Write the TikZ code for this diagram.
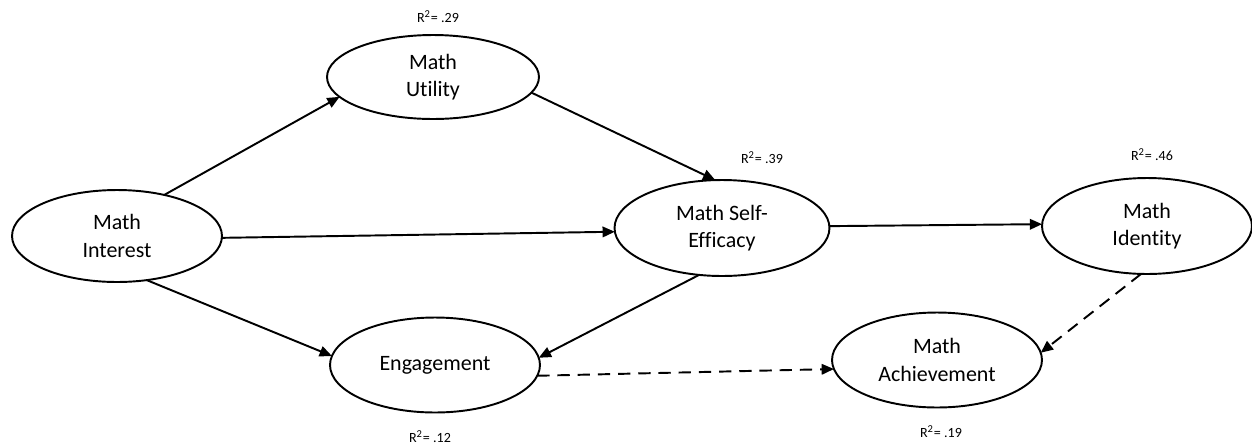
\documentclass[tikz,border=0pt]{standalone}
\usepackage{fontspec}
\setmainfont{Carlito}[Ligatures=NoCommon]
\usepackage{tikz}
\usetikzlibrary{arrows.meta,positioning,shapes.geometric}

\begin{document}
\begin{tikzpicture}[x=0.02cm, y=-0.02cm,
    latent/.style={ellipse, draw, line width=1.1pt, inner sep=0pt, outer sep=0pt,
        align=center, font=\fontsize{12.5}{15.5}\selectfont},
    rsq/.style={font=\fontsize{8}{10}\selectfont},
    path/.style={line width=1.1pt, -{Triangle[length=7pt,width=6pt]}},
    weak/.style={path, dash pattern=on 7pt off 4.5pt}]
    \useasboundingbox (0,0) rectangle (1252,444);

    \node[latent, minimum width=4.2cm, minimum height=1.84cm] (interest) at (117,236) {Math\\Interest};
    \node[latent, minimum width=4.24cm, minimum height=1.68cm] (utility) at (433,77) {Math\\Utility};
    \node[latent, minimum width=4.3cm, minimum height=1.92cm] (selfeff) at (722,228) {Math Self-\\Efficacy};
    \node[latent, minimum width=4.2cm, minimum height=1.92cm] (identity) at (1147,226) {Math\\Identity};
    \node[latent, minimum width=4.2cm, minimum height=1.9cm] (engage) at (435,365) {Engagement};
    \node[latent, minimum width=4.2cm, minimum height=1.9cm] (achieve) at (937,360) {Math\\Achievement};

    \node[rsq] (r-utility) at (438,17) {R\textsuperscript{2}= .29};
    \node[rsq] (r-selfeff) at (762,158) {R\textsuperscript{2}= .39};
    \node[rsq] (r-identity) at (1152,155) {R\textsuperscript{2}= .46};
    \node[rsq] (r-engage) at (430,437) {R\textsuperscript{2}= .12};
    \node[rsq] (r-achieve) at (941,432) {R\textsuperscript{2}= .19};

    \draw[path] (interest.41) -- (utility.192);
    \draw[path] (interest.-1) -- (selfeff.182);
    \draw[path] (interest.-56) -- (engage.175);
    \draw[path] (utility.-9) -- (selfeff.98);
    \draw[path] (selfeff.1) -- (identity.179);
    \draw[path] (selfeff.244) -- (engage.4);
    \draw[weak] (engage.-6) -- (achieve.185);
    \draw[weak] (identity.263) -- (achieve.4);
\end{tikzpicture}
\end{document}
